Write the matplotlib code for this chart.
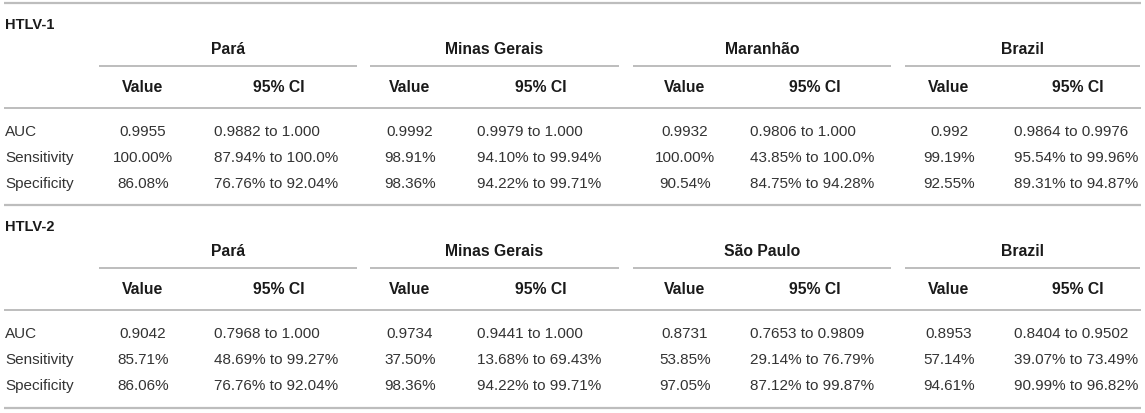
import matplotlib.pyplot as plt

plt.rcParams['font.family'] = ['Liberation Sans', 'DejaVu Sans']

# table contents
metrics = ["AUC", "Sensitivity", "Specificity"]

htlv1_regions = ["Pará", "Minas Gerais", "Maranhão", "Brazil"]
htlv1_value = [
    ["0.9955", "100.00%", "86.08%"],
    ["0.9992", "98.91%", "98.36%"],
    ["0.9932", "100.00%", "90.54%"],
    ["0.992", "99.19%", "92.55%"],
]
htlv1_ci = [
    ["0.9882 to 1.000", "87.94% to 100.0%", "76.76% to 92.04%"],
    ["0.9979 to 1.000", "94.10% to 99.94%", "94.22% to 99.71%"],
    ["0.9806 to 1.000", "43.85% to 100.0%", "84.75% to 94.28%"],
    ["0.9864 to 0.9976", "95.54% to 99.96%", "89.31% to 94.87%"],
]

htlv2_regions = ["Pará", "Minas Gerais", "São Paulo", "Brazil"]
htlv2_value = [
    ["0.9042", "85.71%", "86.06%"],
    ["0.9734", "37.50%", "98.36%"],
    ["0.8731", "53.85%", "97.05%"],
    ["0.8953", "57.14%", "94.61%"],
]
htlv2_ci = [
    ["0.7968 to 1.000", "48.69% to 99.27%", "76.76% to 92.04%"],
    ["0.9441 to 1.000", "13.68% to 69.43%", "94.22% to 99.71%"],
    ["0.7653 to 0.9809", "29.14% to 76.79%", "87.12% to 99.87%"],
    ["0.8404 to 0.9502", "39.07% to 73.49%", "90.99% to 96.82%"],
]

sections = [
    ("HTLV-1", htlv1_regions, htlv1_value, htlv1_ci),
    ("HTLV-2", htlv2_regions, htlv2_value, htlv2_ci),
]

# layout in pixels
W, H = 1145, 414
value_x = [143, 410, 685, 949]
ci_x = [214, 477, 750, 1014]
ci_head_x = [279, 541, 815, 1078]
group_span = [(99, 357), (370, 619), (633, 891), (905, 1140)]
section_top = [4, 206]
line_c = '#bdbdbd'
head_c = '#1a1a1a'
body_c = '#333333'
fs_body = 11
fs_head = 11.3
fs_title = 10.5

fig = plt.figure(figsize=(W / 100, H / 100), dpi=100)
ax = fig.add_axes([0, 0, 1, 1])
ax.set_xlim(0, W)
ax.set_ylim(H, 0)
ax.axis('off')

for top, (name, regions, values, cis) in zip(section_top, sections):
    ax.plot([4, 1141], [top, top], color=line_c, lw=1.6, solid_capstyle='butt')
    ax.text(5, top + 21, name, fontsize=fs_title, fontweight='bold', color=head_c,
            ha='left', va='center')
    for i, region in enumerate(regions):
        x0, x1 = group_span[i]
        ax.text((x0 + x1) / 2, top + 46, region, fontsize=fs_head, fontweight='bold',
                color=head_c, ha='center', va='center')
        ax.plot([x0, x1], [top + 63, top + 63], color=line_c, lw=1.4,
                solid_capstyle='butt')
        ax.text(value_x[i], top + 84, "Value", fontsize=fs_head, fontweight='bold',
                color=head_c, ha='center', va='center')
        ax.text(ci_head_x[i], top + 84, "95% CI", fontsize=fs_head, fontweight='bold',
                color=head_c, ha='center', va='center')
        for j in range(len(metrics)):
            y = top + 128 + j * 26
            ax.text(value_x[i], y, values[i][j], fontsize=fs_body, color=body_c,
                    ha='center', va='center')
            ax.text(ci_x[i], y, cis[i][j], fontsize=fs_body, color=body_c,
                    ha='left', va='center')
    ax.plot([4, 1141], [top + 105, top + 105], color=line_c, lw=1.4,
            solid_capstyle='butt')
    for j, m in enumerate(metrics):
        ax.text(5, top + 128 + j * 26, m, fontsize=fs_body, color=body_c,
                ha='left', va='center')

ax.plot([4, 1141], [409, 409], color=line_c, lw=1.6, solid_capstyle='butt')

fig.savefig('out.png', dpi=100)
